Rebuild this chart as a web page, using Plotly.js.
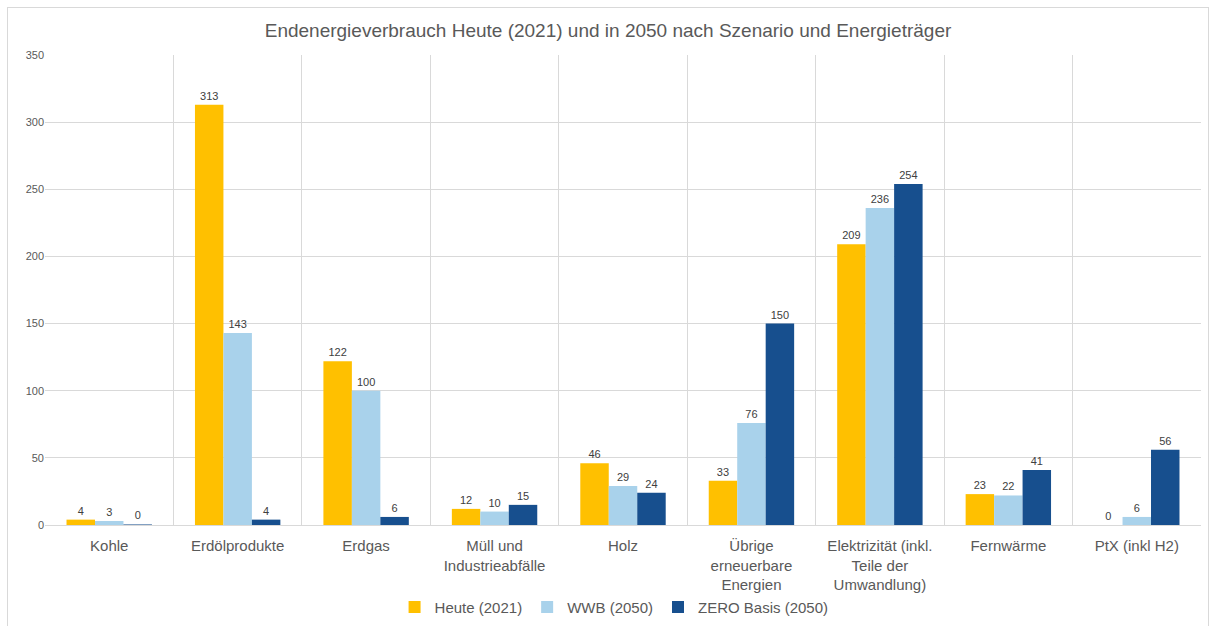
<!DOCTYPE html>
<html>
<head>
<meta charset="utf-8">
<script src="https://cdn.plot.ly/plotly-3.0.1.min.js"></script>
<style>
html,body{margin:0;padding:0;background:#fff;}
#frame{position:absolute;left:7px;top:7px;width:1202px;height:640px;border:1px solid #d9d9d9;box-sizing:border-box;}
#chart{position:absolute;left:0;top:0;width:1216px;height:626px;}
</style>
</head>
<body>
<div id="frame"></div>
<div id="chart"></div>
<script>
const categories = ["Kohle","Erdölprodukte","Erdgas","Müll und<br>Industrieabfälle","Holz","Übrige<br>erneuerbare<br>Energien","Elektrizität (inkl.<br>Teile der<br>Umwandlung)","Fernwärme","PtX (inkl H2)"];
const heute2021 = [4, 313, 122, 12, 46, 33, 209, 23, 0];
const wwb2050 = [3, 143, 100, 10, 29, 76, 236, 22, 6];
const zero2050 = [0.4, 4, 6, 15, 24, 150, 254, 41, 56];
const seriesNames = ["Heute (2021)", "WWB (2050)", "ZERO Basis (2050)"];
const colors = ["#FFC000", "#A9D2EB", "#174F8E"];
const yTicks = [0, 50, 100, 150, 200, 250, 300, 350];

const font = "Liberation Sans, Arial, sans-serif";
function mk(vals, i){
  const tf = {size: 11, color: "#404040", family: font};
  return {
    type: "bar", x: categories, y: vals, name: seriesNames[i],
    marker: {color: colors[i]},
    text: vals.map(v => String(Math.round(v))),
    textposition: "outside", cliponaxis: false,
    textfont: tf, outsidetextfont: tf, insidetextfont: tf,
    hoverinfo: "x+y+name"
  };
}
const data = [mk(heute2021,0), mk(wwb2050,1), mk(zero2050,2)];
const layout = {
  width: 1216, height: 626,
  paper_bgcolor: "rgba(0,0,0,0)", plot_bgcolor: "rgba(0,0,0,0)",
  margin: {l: 45, r: 15, t: 55, b: 101},
  title: {text: "Endenergieverbrauch Heute (2021) und in 2050 nach Szenario und Energieträger",
          font: {size: 19, color: "#595959", family: font}, x: 0.5, xref: "container", y: 0.952, yanchor: "middle", automargin: false},
  barmode: "group", bargap: 0.335, bargroupgap: 0,
  xaxis: {type: "category", tickson: "boundaries", showgrid: true, gridcolor: "#d9d9d9", gridwidth: 1,
          ticks: "", showline: false, zeroline: false, automargin: false, ticklabelstandoff: 10,
          tickfont: {size: 15, color: "#595959", family: font}},
  yaxis: {range: [0, 350], tickvals: yTicks, ticktext: yTicks.map(String), showgrid: true, gridcolor: "#d9d9d9",
          zeroline: true, zerolinecolor: "#d9d9d9", showline: false, ticks: "", automargin: false,
          tickfont: {size: 11, color: "#595959", family: font}},
  showlegend: true,
  legend: {orientation: "h", x: 0.505, xref: "container", xanchor: "center", y: 0.03, yref: "container", yanchor: "middle",
           font: {size: 15, color: "#595959", family: font}, traceorder: "normal", itemwidth: 30},
};
Plotly.newPlot("chart", data, layout, {displayModeBar: false, staticPlot: true});
</script>
</body>
</html>
